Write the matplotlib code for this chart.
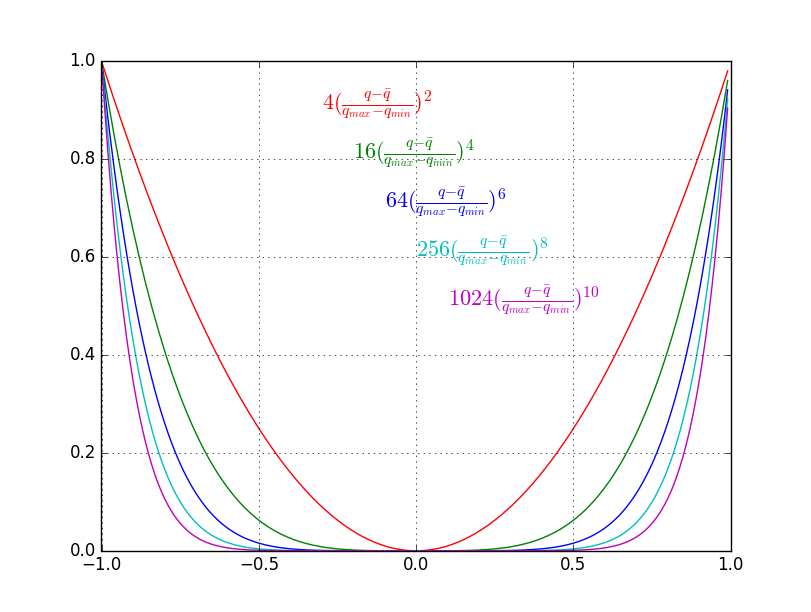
import numpy as np
import matplotlib
matplotlib.use("Agg")
import matplotlib.pyplot as plt

plt.style.use("classic")
plt.rcParams["mathtext.fontset"] = "cm"

# Data
exponents = [2, 4, 6, 8, 10]
coefficients = [4, 16, 64, 256, 1024]
colors = ["r", "g", "b", "c", "m"]
label_x = [-0.3, -0.2, -0.1, 0.0, 0.1]
label_y = [0.9, 0.8, 0.7, 0.6, 0.5]
q = np.arange(-1.0, 1.0, 0.01)

fig = plt.figure(figsize=(8.12, 6.12), dpi=100)
ax = fig.add_subplot(111)
for n, c, col, tx, ty in zip(exponents, coefficients, colors, label_x, label_y):
    ax.plot(q, q ** n, color=col)
    ax.text(tx, ty,
            r"$%d(\frac{q{-}\bar{q}}{q_{max}{-}q_{min}})^{%d}$" % (c, n),
            color=col, fontsize=16)

ax.set_xlim(-1, 1)
ax.set_ylim(0, 1)
ax.grid(True)
fig.savefig("out.png", dpi=100)
